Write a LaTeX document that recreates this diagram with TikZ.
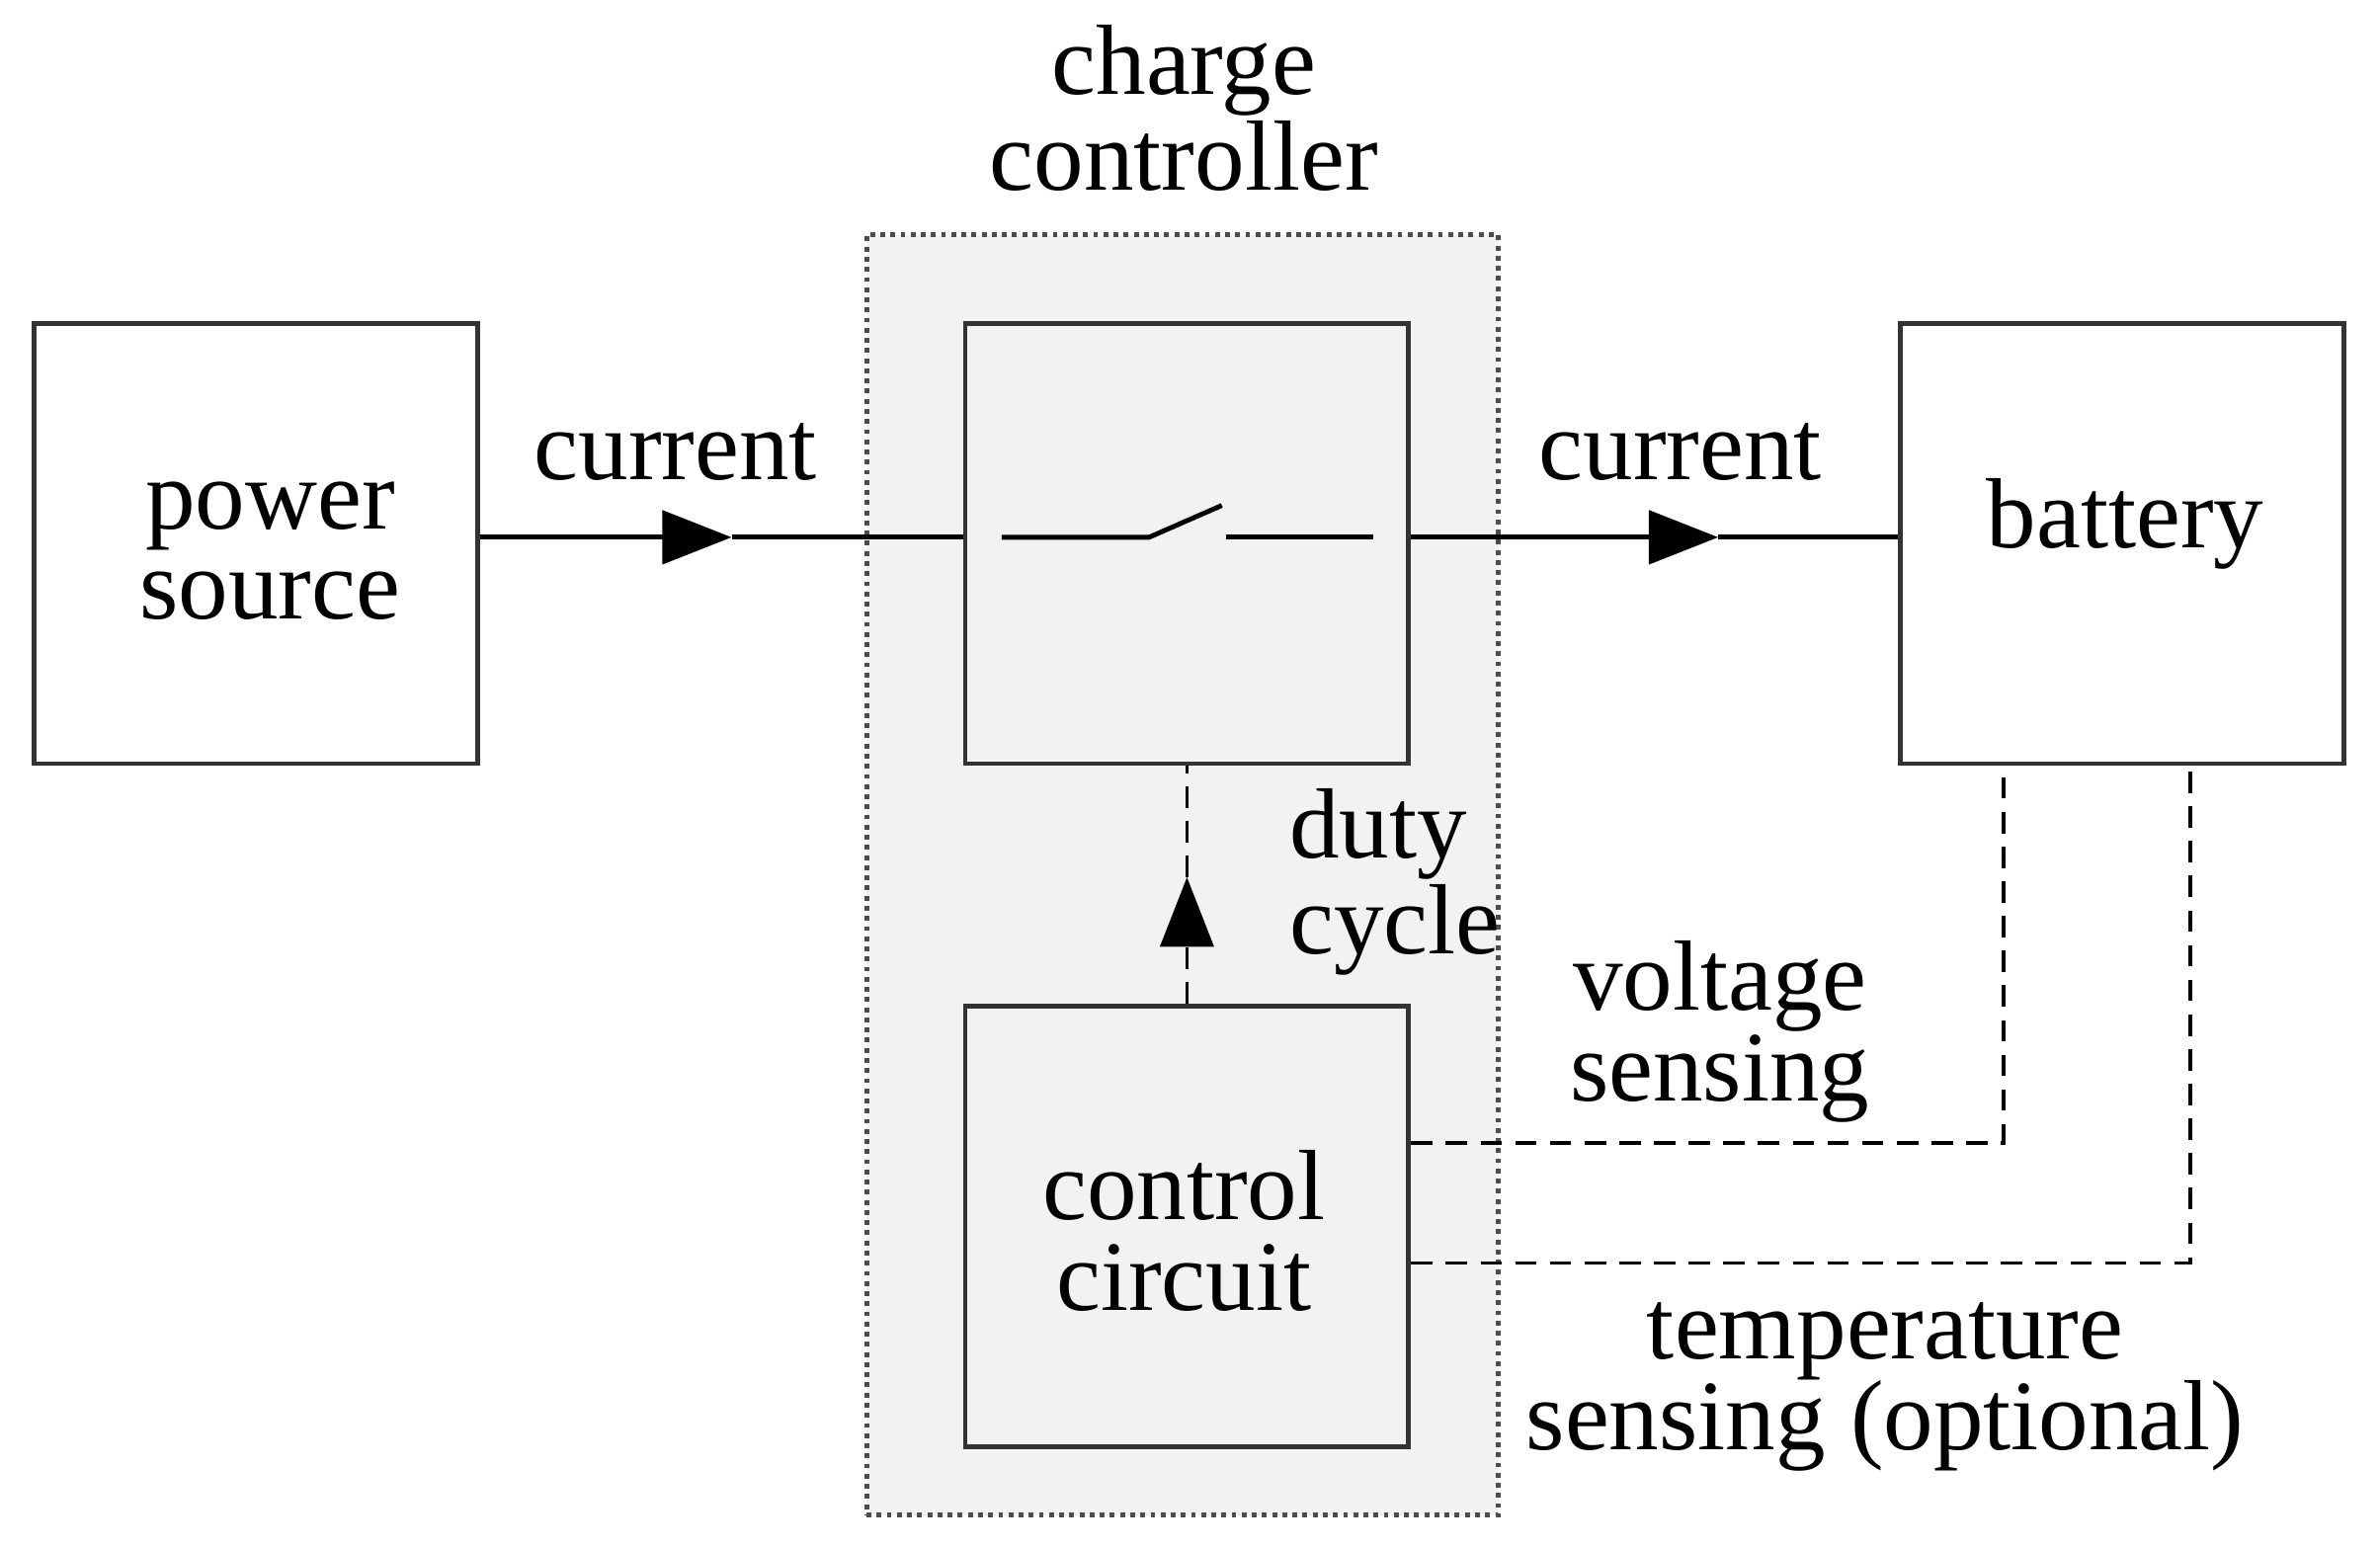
\documentclass[tikz,border=0pt]{standalone}
\usepackage{fontspec}
\setmainfont{Liberation Serif}
\usetikzlibrary{arrows.meta}
\begin{document}
\begin{tikzpicture}[x=0.01cm,y=-0.01cm,
  box/.style={draw=black!80,line width=0.9pt,minimum width=2.92cm,minimum height=2.9cm,inner sep=0pt},
  ibox/.style={box,fill=black!5},
  lbl/.style={font=\fontsize{18.7}{17}\selectfont,align=center,inner sep=0pt},
  tri/.style={-{Triangle[length=13pt,width=10pt]}},
  dsh/.style={dashed,dash pattern=on 4pt off 2.5pt,line width=0.6pt}]
\useasboundingbox (0,0) rectangle (1568,1020);
\node[draw=black!70,densely dotted,line width=0.9pt,fill=black!5,minimum width=4.16cm,minimum height=8.43cm,inner sep=0pt] (cc) at (779,576.5) {};
\node[box] (ps) at (168.5,358) {};
\node[lbl] at (178,363) {power\\source};
\node[ibox] (sw) at (782,358) {};
\node[ibox] (ctl) at (782,808) {};
\node[lbl] at (780,811) {control\\circuit};
\node[box] (bat) at (1398,358) {};
\node[lbl] at (1400,345) {battery};
\node[lbl] at (780,71) {charge\\controller};
\node[lbl] at (445,298) {current};
\node[lbl] at (1107,298) {current};
\node[lbl,align=left,anchor=west] at (849,581) {duty\\cycle};
\node[lbl] at (1133,680) {voltage\\sensing};
\node[lbl] at (1242,914) {temperature\\sensing (optional)};
% main current lines
\coordinate (a1) at (482,354);
\coordinate (a2) at (1132,354);
\draw[line width=0.9pt,tri] (ps.east|-a1) -- (a1);
\draw[line width=0.9pt] (a1) -- (sw.west|-a1);
\draw[line width=0.9pt,tri] (sw.east|-a2) -- (a2);
\draw[line width=0.9pt] (a2) -- (bat.west|-a2);
% switch
\coordinate (s1) at (660,354); \coordinate (s2) at (757,354);
\coordinate (s3) at (805,333); \coordinate (s4) at (808,354); \coordinate (s5) at (905,354);
\draw[line width=0.9pt] (s1) -- (s2) -- (s3);
\draw[line width=0.9pt] (s4) -- (s5);
% duty cycle
\coordinate (d1) at (782,578);
\draw[dsh,tri] (ctl.north) -- (d1);
\draw[dsh] (d1) -- (sw.south);
% sensing
\coordinate (v1) at (1320,753); \coordinate (t1) at (1443,832);
\draw[dsh] (ctl.east|-v1) -- (v1) -- (bat.south-|v1);
\draw[dsh] (ctl.east|-t1) -- (t1) -- (bat.south-|t1);
\end{tikzpicture}
\end{document}
